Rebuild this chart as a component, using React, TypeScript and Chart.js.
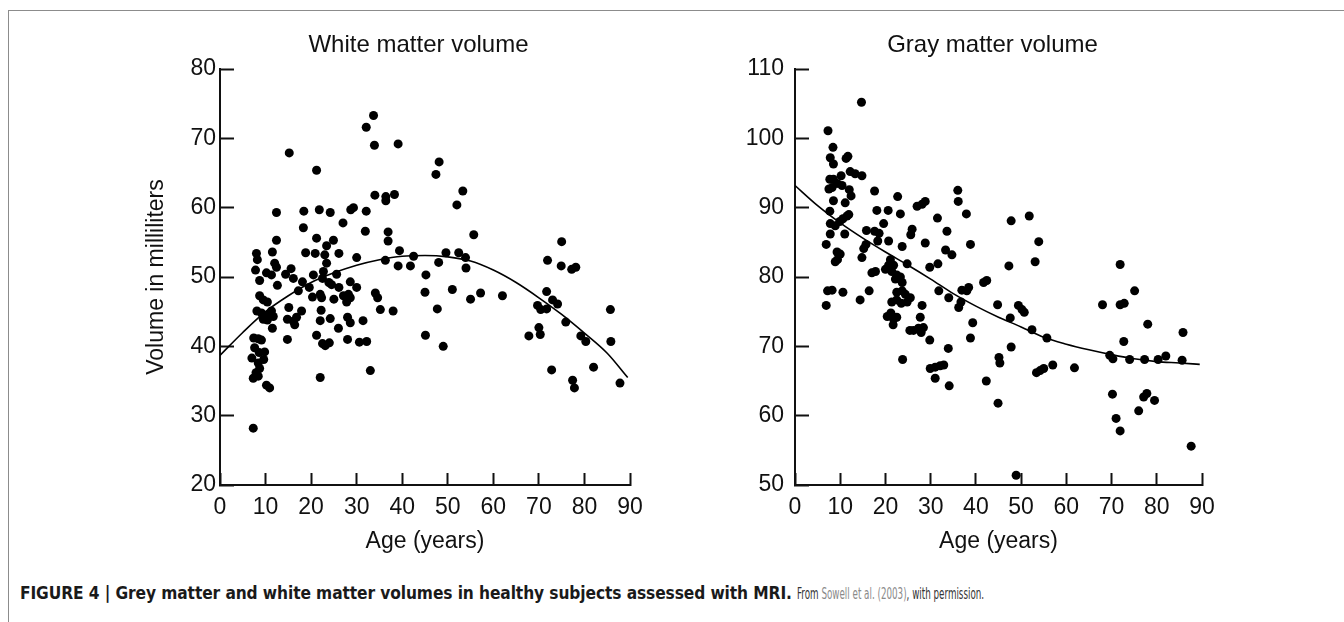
import React, { useEffect, useRef } from "react";
import { Chart, registerables } from "chart.js";

Chart.register(...registerables);

// ---------- data ----------
const ageTicks = [0, 10, 20, 30, 40, 50, 60, 70, 80, 90];
const whiteTicks = [20, 30, 40, 50, 60, 70, 80];
const grayTicks = [50, 60, 70, 80, 90, 100, 110];

const whiteAges = [
  7.3, 33.7, 32.1, 33.9, 39.1, 15.2, 48.1, 47.4, 21.2, 53.3, 52.0, 34.0, 36.4, 36.4, 38.3,
  12.4, 18.4, 21.8, 24.2, 28.7, 29.3, 32.1, 18.3, 27.0, 31.9, 36.9, 36.9, 55.7, 75.0, 12.4,
  21.2, 23.4, 24.9, 8.0, 8.2, 11.5, 18.8, 20.9, 26.1, 23.0, 23.4, 30.0, 36.3, 39.4, 42.5,
  41.8, 49.6, 52.4, 53.9, 54.0, 48.0, 39.1, 71.9, 74.9, 77.2, 78.1, 7.8, 10.2, 11.3, 12.0,
  12.4, 14.4, 15.6, 16.1, 8.7, 12.6, 18.1, 20.5, 22.7, 22.5, 25.6, 26.1, 28.6, 30.0, 23.9,
  24.5, 19.6, 17.2, 22.0, 22.3, 20.3, 25.0, 27.1, 28.2, 27.8, 28.6, 34.1, 34.6, 45.2, 45.0,
  51.0, 57.2, 62.0, 55.0, 71.7, 69.7, 70.4, 71.7, 73.0, 74.1, 75.9, 85.7, 8.7, 9.5, 10.4,
  8.1, 9.1, 10.2, 11.3, 11.7, 10.4, 9.5, 11.5, 15.1, 14.8, 16.1, 16.8, 16.4, 17.9, 22.2,
  22.0, 24.2, 26.0, 28.0, 28.6, 31.4, 35.2, 38.0, 47.7, 85.8, 14.8, 21.2, 22.5, 23.1, 24.0,
  28.0, 30.6, 32.2, 45.1, 49.0, 67.8, 70.0, 70.3, 79.2, 80.3, 82.0, 7.4, 8.4, 9.1, 7.6,
  8.6, 9.8, 7.0, 9.6, 8.4, 8.7, 7.9, 7.3, 8.4, 10.2, 10.9, 22.0, 33.0, 72.8, 77.4, 77.8, 87.8,
];
const whiteVolumes = [
  28.2, 73.3, 71.6, 69.0, 69.2, 67.9, 66.6, 64.8, 65.4, 62.4, 60.4, 61.8, 61.6, 61.0, 61.9,
  59.3, 59.5, 59.7, 59.3, 59.7, 60.0, 59.5, 57.1, 57.8, 56.6, 56.5, 55.2, 56.1, 55.1, 55.3,
  55.6, 54.5, 55.3, 53.4, 52.5, 53.6, 53.5, 53.4, 53.4, 53.2, 52.0, 52.8, 52.4, 53.8, 53.0,
  51.6, 53.5, 53.5, 52.8, 51.3, 52.1, 51.6, 52.4, 51.6, 51.1, 51.4, 51.0, 50.6, 50.3, 52.0,
  51.4, 50.4, 51.2, 49.8, 49.5, 48.8, 49.3, 50.3, 50.8, 49.8, 50.4, 48.5, 49.3, 48.5, 49.2,
  48.9, 48.5, 48.0, 47.5, 47.0, 47.1, 46.8, 47.3, 47.5, 46.4, 47.0, 47.7, 47.0, 50.3, 47.8,
  48.2, 47.7, 47.3, 46.8, 47.9, 45.9, 45.3, 45.4, 46.7, 46.1, 43.5, 45.3, 47.3, 46.7, 46.4,
  45.1, 44.8, 44.5, 45.1, 44.3, 43.8, 43.9, 42.6, 45.6, 43.9, 43.6, 44.2, 43.1, 45.1, 45.2,
  43.7, 44.0, 42.6, 44.2, 43.4, 43.7, 45.3, 45.1, 45.4, 40.7, 41.0, 41.6, 40.4, 40.1, 40.5,
  41.0, 40.6, 40.7, 41.6, 40.0, 41.5, 42.7, 41.7, 41.5, 40.7, 37.0, 41.2, 41.1, 40.9, 39.8,
  39.1, 39.2, 38.3, 38.1, 37.6, 36.8, 36.2, 35.4, 35.7, 34.4, 34.0, 35.5, 36.5, 36.6, 35.1, 34.0, 34.7,
];
const whiteFitAges = [0, 5, 10, 15, 20, 25, 30, 35, 40, 45, 50, 55, 60, 65, 70, 75, 80, 85, 89.5];
const whiteFitVolumes = [38.7, 42.0, 45.0, 47.3, 49.2, 50.6, 51.7, 52.5, 53.0, 53.1, 52.9, 52.3, 51.0, 49.2, 47.0, 44.6, 41.9, 39.0, 35.5];

const grayAges = [
  14.7, 7.3, 8.4, 7.8, 8.5, 11.3, 11.7, 7.7, 8.5, 9.3, 7.5, 8.2, 10.2, 10.4, 12.2, 13.3,
  14.8, 12.0, 12.4, 11.1, 8.5, 7.7, 7.8, 8.9, 9.9, 10.6, 11.5, 11.9, 7.8, 11.0, 6.9, 9.3,
  10.0, 8.9, 9.4, 6.9, 7.2, 8.2, 10.6, 14.4, 14.8, 15.2, 15.7, 15.8, 17.6, 18.1, 17.6, 18.6,
  18.3, 19.6, 20.6, 20.7, 17.0, 17.8, 16.4, 20.0, 20.7, 21.1, 21.8, 21.4, 22.5, 22.7, 23.3,
  23.7, 24.8, 22.2, 23.3, 23.7, 22.5, 23.7, 24.4, 21.4, 22.5, 23.5, 24.8, 25.5, 20.4, 21.2,
  21.8, 22.5, 21.7, 23.8, 25.4, 26.2, 25.9, 25.6, 27.0, 28.1, 28.8, 28.8, 28.1, 27.7, 27.3,
  28.4, 27.9, 29.8, 29.8, 31.6, 31.5, 31.8, 33.6, 33.3, 34.7, 34.0, 29.9, 31.0, 32.1, 32.9,
  31.0, 33.9, 34.1, 36.0, 36.1, 37.9, 38.8, 36.9, 38.0, 36.2, 36.7, 38.4, 39.3, 38.8, 41.7,
  42.4, 42.3, 44.8, 45.1, 45.3, 44.9, 47.8, 47.3, 47.6, 47.8, 49.4, 50.2, 50.7, 51.8, 53.9,
  53.1, 52.4, 53.4, 54.2, 55.0, 55.7, 57.0, 61.8, 48.9, 68.0, 69.6, 70.3, 70.2, 71.0, 71.9,
  71.9, 71.9, 72.8, 72.7, 74.0, 75.1, 76.0, 77.1, 77.8, 78.0, 77.3, 79.5, 80.3, 82.0, 85.6,
  85.8, 87.6,
];
const grayVolumes = [
  105.2, 101.1, 98.7, 97.2, 96.3, 97.1, 97.4, 94.1, 94.1, 93.5, 92.7, 92.9, 94.6, 93.2, 95.2, 94.9,
  94.6, 92.6, 91.7, 90.7, 91.0, 89.5, 87.7, 87.4, 88.0, 88.4, 88.8, 89.0, 86.2, 86.2, 84.7, 83.6,
  83.3, 82.2, 82.5, 75.9, 78.0, 78.1, 77.8, 76.7, 82.8, 84.1, 84.7, 86.7, 92.4, 89.6, 86.6, 86.3,
  85.2, 87.7, 89.6, 85.2, 80.6, 80.8, 78.0, 81.1, 81.7, 82.5, 81.7, 80.8, 80.3, 91.6, 89.1,
  84.4, 81.9, 79.7, 80.0, 79.2, 77.8, 78.0, 77.5, 76.4, 76.7, 76.2, 76.4, 77.0, 74.3, 74.8,
  73.9, 74.2, 73.1, 68.1, 72.3, 72.3, 86.9, 86.1, 90.2, 90.5, 90.9, 84.9, 75.9, 74.2, 72.6,
  72.7, 72.0, 70.9, 81.4, 81.9, 88.5, 78.0, 86.6, 83.9, 83.2, 77.0, 66.8, 67.0, 67.2, 67.3,
  65.4, 69.7, 64.3, 92.5, 90.9, 89.1, 84.7, 78.1, 78.0, 75.6, 76.4, 78.5, 73.4, 71.2, 79.2,
  79.5, 65.0, 76.0, 68.4, 67.6, 61.8, 88.1, 81.6, 74.1, 69.9, 75.9, 75.3, 74.9, 88.8, 85.1,
  82.2, 72.4, 66.2, 66.5, 66.8, 71.2, 67.3, 66.9, 51.4, 76.0, 68.7, 68.2, 63.1, 59.6, 57.8,
  81.8, 76.0, 76.2, 70.7, 68.1, 78.0, 60.7, 62.7, 63.2, 73.2, 68.1, 62.2, 68.1, 68.6, 68.0,
  72.0, 55.6,
];
const grayFitAges = [0, 5, 10, 15, 20, 25, 30, 35, 40, 45, 50, 55, 60, 65, 70, 75, 80, 85, 89.5];
const grayFitVolumes = [93.2, 90.3, 87.8, 85.6, 83.6, 81.7, 79.7, 77.6, 75.8, 74.2, 72.8, 71.3, 70.3, 69.5, 68.8, 68.2, 67.8, 67.6, 67.4];

// ---------- helpers ----------
const FONT = "'Liberation Sans', Arial, Helvetica, sans-serif";
const INK = "#111111";

const toPoints = (xs: number[], ys: number[]) => xs.map((x, i) => ({ x, y: ys[i] }));

type PanelLayout = {
  width: number;
  height: number;
  padLeft: number;
  padRight: number;
  padTop: number;
  padBottom: number;
  yAxisWidth: number;
  rightBoxWidth: number;
  xAxisHeight: number;
  yTickPadding: number;
  titleBottom: number;
};

function buildConfig(
  title: string,
  ages: number[],
  vols: number[],
  fitAges: number[],
  fitVols: number[],
  yTicks: number[],
  yTitle: string | null,
  L: PanelLayout
): any {
  return {
    type: "scatter",
    data: {
      datasets: [
        {
          label: "subjects",
          data: toPoints(ages, vols),
          pointRadius: 4.5,
          pointHoverRadius: 4.5,
          backgroundColor: "#000000",
          borderWidth: 0,
          showLine: false,
        },
        {
          label: "fit",
          data: toPoints(fitAges, fitVols),
          showLine: true,
          pointRadius: 0,
          borderColor: "#000000",
          borderWidth: 1.6,
          tension: 0.4,
          cubicInterpolationMode: "monotone",
          fill: false,
        },
      ],
    },
    options: {
      responsive: false,
      animation: false,
      devicePixelRatio: 1,
      layout: {
        padding: { left: L.padLeft, right: L.padRight, top: L.padTop, bottom: L.padBottom },
      },
      plugins: {
        legend: { display: false },
        tooltip: { enabled: false },
        title: {
          display: true,
          text: title,
          color: INK,
          font: { family: FONT, size: 24, weight: "normal" },
          padding: { top: 0, bottom: L.titleBottom },
        },
      },
      scales: {
        x: {
          type: "linear",
          position: "bottom",
          min: ageTicks[0],
          max: ageTicks[ageTicks.length - 1],
          afterBuildTicks: (s: any) => {
            s.ticks = ageTicks.map((v) => ({ value: v }));
          },
          afterFit: (s: any) => {
            s.height = L.xAxisHeight;
          },
          ticks: {
            color: INK,
            font: { family: FONT, size: 23 },
            padding: 21,
            maxRotation: 0,
            autoSkip: false,
          },
          grid: {
            display: true,
            drawOnChartArea: false,
            drawTicks: true,
            tickLength: -12,
            tickWidth: 2,
            tickColor: INK,
          },
          border: { display: true, color: INK, width: 2 },
          title: {
            display: true,
            text: "Age (years)",
            color: INK,
            font: { family: FONT, size: 23 },
            padding: 0,
          },
        },
        y: {
          type: "linear",
          position: "left",
          min: yTicks[0],
          max: yTicks[yTicks.length - 1],
          afterBuildTicks: (s: any) => {
            s.ticks = yTicks.map((v) => ({ value: v }));
          },
          afterFit: (s: any) => {
            s.width = L.yAxisWidth;
          },
          ticks: {
            color: INK,
            font: { family: FONT, size: 23 },
            padding: L.yTickPadding,
            autoSkip: false,
          },
          grid: {
            display: true,
            drawOnChartArea: false,
            drawTicks: true,
            tickLength: -14,
            tickWidth: 2,
            tickColor: INK,
          },
          border: { display: true, color: INK, width: 2 },
          title: {
            display: !!yTitle,
            text: yTitle || "",
            color: INK,
            font: { family: FONT, size: 23 },
            padding: 0,
          },
        },
        spacer: {
          type: "linear",
          position: "right",
          display: true,
          afterFit: (s: any) => {
            s.width = L.rightBoxWidth;
          },
          ticks: { display: false },
          grid: { display: false, drawTicks: false },
          border: { display: false },
        },
      },
    },
  };
}

function Panel(props: {
  left: number;
  title: string;
  ages: number[];
  vols: number[];
  fitAges: number[];
  fitVols: number[];
  yTicks: number[];
  yTitle: string | null;
  layout: PanelLayout;
}) {
  const ref = useRef<HTMLCanvasElement | null>(null);
  useEffect(() => {
    if (!ref.current) return;
    const chart = new Chart(
      ref.current,
      buildConfig(
        props.title,
        props.ages,
        props.vols,
        props.fitAges,
        props.fitVols,
        props.yTicks,
        props.yTitle,
        props.layout
      )
    );
    return () => chart.destroy();
  }, []);
  return (
    <canvas
      ref={ref}
      width={props.layout.width}
      height={props.layout.height}
      style={{
        position: "absolute",
        left: props.left,
        top: 0,
        width: props.layout.width,
        height: props.layout.height,
      }}
    />
  );
}

const leftLayout: PanelLayout = {
  width: 694,
  height: 560,
  padLeft: 143,
  padRight: 0,
  padTop: 31,
  padBottom: 4.7,
  yAxisWidth: 77,
  rightBoxWidth: 64,
  xAxisHeight: 70.3,
  yTickPadding: 18,
  titleBottom: 9.2,
};

const rightLayout: PanelLayout = {
  width: 644,
  height: 560,
  padLeft: 39,
  padRight: 98,
  padTop: 31,
  padBottom: 4.7,
  yAxisWidth: 56,
  rightBoxWidth: 44,
  xAxisHeight: 70.3,
  yTickPadding: 25,
  titleBottom: 9.2,
};

const CAPTION_FONT =
  "'DejaVu Sans Condensed', 'Liberation Sans Narrow', 'Liberation Sans', Arial, sans-serif";

export default function App() {
  return (
    <div
      style={{
        position: "absolute",
        left: 0,
        top: 0,
        width: 1344,
        height: 622,
        background: "#ffffff",
        overflow: "hidden",
      }}
    >
      <div
        style={{
          position: "absolute",
          left: 8,
          top: 10,
          right: 0,
          bottom: 0,
          borderTop: "1px solid #8c8c8c",
          borderLeft: "1px solid #8c8c8c",
        }}
      />
      <Panel
        left={0}
        title="White matter volume"
        ages={whiteAges}
        vols={whiteVolumes}
        fitAges={whiteFitAges}
        fitVols={whiteFitVolumes}
        yTicks={whiteTicks}
        yTitle="Volume in milliliters"
        layout={leftLayout}
      />
      <Panel
        left={700}
        title="Gray matter volume"
        ages={grayAges}
        vols={grayVolumes}
        fitAges={grayFitAges}
        fitVols={grayFitVolumes}
        yTicks={grayTicks}
        yTitle={null}
        layout={rightLayout}
      />
      <div
        style={{
          position: "absolute",
          left: 20,
          top: 582,
          whiteSpace: "nowrap",
          fontFamily: CAPTION_FONT,
          fontSize: 17.2,
          lineHeight: "22px",
          color: "#1a1a1a",
        }}
      >
        <span style={{ fontWeight: "bold", letterSpacing: "-0.1px" }}>
          FIGURE 4 | Grey matter and white matter volumes in healthy subjects assessed with MRI.
        </span>
        <span
          style={{
            display: "inline-block",
            marginLeft: 5,
            transform: "scaleX(0.59)",
            transformOrigin: "left center",
            fontSize: 16.5,
            color: "#333333",
          }}
        >
          From <span style={{ color: "#8a8a8a" }}>Sowell et al. (2003)</span>, with permission.
        </span>
      </div>
    </div>
  );
}
